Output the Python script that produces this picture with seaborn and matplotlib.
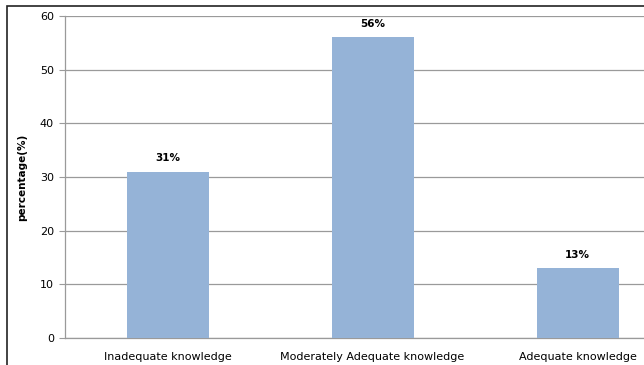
import matplotlib
matplotlib.use("Agg")
import matplotlib.pyplot as plt
import seaborn as sns
import pandas as pd
from matplotlib.patches import Rectangle

categories = ["Inadequate knowledge", "Moderately Adequate knowledge", "Adequate knowledge"]
values = [31, 56, 13]
labels = ["31%", "56%", "13%"]

sns.set_style("white")
plt.rcParams['font.family'] = ['Verdana', 'DejaVu Sans']
plt.rcParams['text.color'] = 'black'
plt.rcParams['xtick.color'] = 'black'
plt.rcParams['ytick.color'] = 'black'
plt.rcParams['axes.labelcolor'] = 'black'

df = pd.DataFrame({"cat": categories, "val": values})

fig = plt.figure(figsize=(6.44, 3.65), dpi=100)
ax = fig.add_axes([65/644, 27/365, 615/644, 322/365])

sns.barplot(data=df, x="cat", y="val", color="#95B3D7", width=0.4, saturation=1,
            linewidth=0, edgecolor="none", ax=ax, zorder=3)

ax.set_ylim(0, 60)
ax.set_yticks(range(0, 61, 10))
ax.yaxis.grid(True, color="#9a9a9a", linewidth=0.9, zorder=0)
ax.set_axisbelow(True)
for s in ["top", "right"]:
    ax.spines[s].set_visible(False)
ax.spines["left"].set_color("#9a9a9a")
ax.spines["bottom"].set_color("#9a9a9a")
ax.spines["left"].set_linewidth(0.9)
ax.spines["bottom"].set_linewidth(0.9)
ax.tick_params(axis="y", length=4, color="#9a9a9a", labelsize=8, pad=4, left=True, labelcolor="black")
ax.tick_params(axis="x", length=0, labelsize=8, pad=10, labelcolor="black")
ax.set_xlabel("")
ax.set_ylabel("percentage(%)", fontsize=7.5, fontweight="bold", labelpad=9, color="black")

for i, (v, t) in enumerate(zip(values, labels)):
    ax.annotate(t, (i, v), xytext=(0, 6), textcoords="offset points",
                ha="center", va="bottom", fontsize=7.5, fontweight="bold", color="black")

fig.patches.append(Rectangle((7/644, -0.1), 2, 1.1 - 6/365, transform=fig.transFigure,
                             fill=False, edgecolor="#222222", linewidth=1.2))

fig.savefig("out.png", dpi=100)
